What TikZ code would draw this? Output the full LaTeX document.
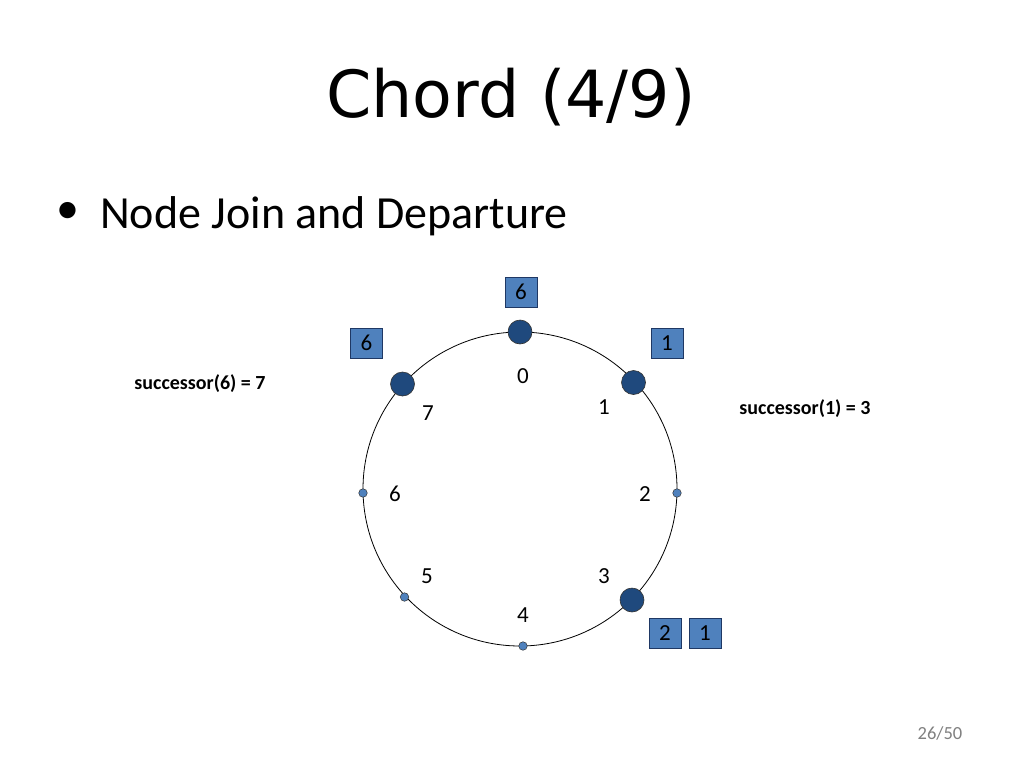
\documentclass[tikz,border=0pt]{standalone}
\usepackage{fontspec}
\setmainfont{Carlito}
\newfontfamily\titlefont{DejaVu Sans}
\definecolor{nodedark}{HTML}{1F497D}
\definecolor{nodelight}{HTML}{4F81BD}
\definecolor{boxedge}{HTML}{1F3864}
\tikzset{
  big/.style={circle,fill=nodedark,draw=black!80,line width=0.6pt,minimum size=24pt,inner sep=0pt},
  small/.style={circle,fill=nodelight,draw=black!80,line width=0.5pt,minimum size=8.5pt,inner sep=0pt},
  keybox/.style={rectangle,fill=nodelight,draw=boxedge,line width=0.6pt,minimum width=32pt,minimum height=30pt,inner sep=0pt,font=\fontsize{23}{25}\selectfont},
  lab/.style={font=\fontsize{23}{25}\selectfont},
  succ/.style={font=\fontsize{20}{22}\selectfont\bfseries}
}
\begin{document}
\begin{tikzpicture}[x=1pt,y=-1pt]
\useasboundingbox (0,0) rectangle (1024,768);
\fill[white] (0,0) rectangle (1024,768);
\node[font=\titlefont\fontsize{65}{70}\selectfont] (title) at (511,97) {Chord (4/9)};
\node[font=\fontsize{46}{50}\selectfont] (dot) at (68,213) {•};
\node[anchor=base west,font=\fontsize{46}{50}\selectfont,inner sep=0pt] (bul) at (100,228) {Node Join and Departure};
\coordinate (c) at (520,489);
\draw[line width=0.8pt] (c) circle (157);
% peers on the ring
\node[big] (n0) at (520,332) {};
\node[big] (n1) at (633.5,382.5) {};
\node[small] (n2) at (677,493) {};
\node[big] (n3) at (632,600) {};
\node[small] (n4) at (523,646) {};
\node[small] (n5) at (404.5,597) {};
\node[small] (n6) at (363,493) {};
\node[big] (n7) at (402.5,384) {};
% identifiers
\node[lab] (l0) at (523,376) {0};
\node[lab] (l1) at (604,407) {1};
\node[lab] (l2) at (645,494) {2};
\node[lab] (l3) at (604,576) {3};
\node[lab] (l4) at (523,615) {4};
\node[lab] (l5) at (427,576) {5};
\node[lab] (l6) at (395,494) {6};
\node[lab] (l7) at (428,413) {7};
% keys
\node[keybox] (k0) at (521,292) {6};
\node[keybox] (k7) at (366.5,343) {6};
\node[keybox] (k1) at (667,343) {1};
\node[keybox] (k3a) at (665,633.5) {2};
\node[keybox] (k3b) at (705,633.5) {1};
% successor notes
\node[succ] (s6) at (200,384) {successor(6) = 7};
\node[succ] (s1) at (805,409) {successor(1) = 3};
% page number
\node[font=\fontsize{18.5}{20}\selectfont,text=black!50] (pg) at (940,733) {26/50};
\end{tikzpicture}
\end{document}
